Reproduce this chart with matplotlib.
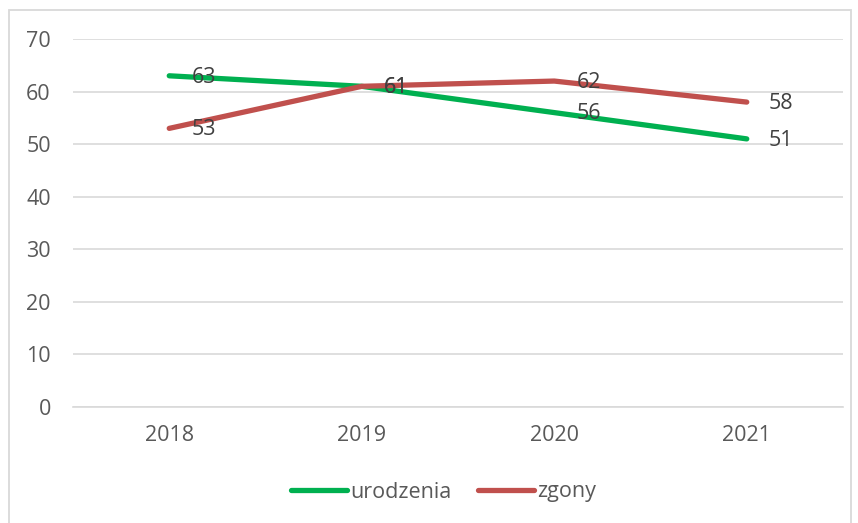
import matplotlib
matplotlib.use("Agg")
import matplotlib.pyplot as plt
from matplotlib.patches import Rectangle

# Chart data
years = ["2018", "2019", "2020", "2021"]
urodzenia = [63, 61, 56, 51]
zgony = [53, 61, 62, 58]

plt.rcParams["font.family"] = ["Open Sans", "DejaVu Sans"]

fig = plt.figure(figsize=(8.58, 5.23), dpi=100)
ax = fig.add_axes([73 / 858, 116 / 523, 770 / 858, 368 / 523])

x = list(range(len(years)))
green = "#00B050"
red = "#C0504D"
ax.plot(x, urodzenia, color=green, linewidth=3.8, solid_capstyle="round",
        solid_joinstyle="round", label="urodzenia", zorder=3)
ax.plot(x, zgony, color=red, linewidth=3.8, solid_capstyle="round",
        solid_joinstyle="round", label="zgony", zorder=3)

# data labels to the right of each point
for series in (urodzenia, zgony):
    for xi, v in zip(x, series):
        ax.annotate(str(v), (xi, v), xytext=(16, -1), textcoords="offset points",
                    ha="left", va="center", fontsize=15.5, color="#404040", zorder=4)

ax.set_xlim(-0.5, len(years) - 0.5)
ax.set_ylim(0, 70)
ax.set_yticks(range(0, 71, 10))
ax.set_xticks(x)
ax.set_xticklabels(years)
ax.tick_params(axis="both", length=0, labelsize=15.5, colors="#595959")
ax.tick_params(axis="y", pad=16)
ax.tick_params(axis="x", pad=13)
ax.grid(axis="y", color="#D9D9D9", linewidth=1.2)
ax.set_axisbelow(True)
for side in ("top", "right", "left"):
    ax.spines[side].set_visible(False)
ax.spines["bottom"].set_color("#D9D9D9")
ax.spines["bottom"].set_linewidth(1.2)

leg = fig.legend(loc="center", bbox_to_anchor=(0.517, 31 / 523), ncol=2, frameon=False,
                 fontsize=15.5, handlelength=2.6, handletextpad=0.15, columnspacing=1.2)
for t in leg.get_texts():
    t.set_color("#595959")

# outer chart border
fig.patches.append(Rectangle((9 / 858, -0.01), 842 / 858, (513 / 523) + 0.01,
                             transform=fig.transFigure, fill=False,
                             edgecolor="#D9D9D9", linewidth=1.3))

fig.savefig("out.png", dpi=100)
